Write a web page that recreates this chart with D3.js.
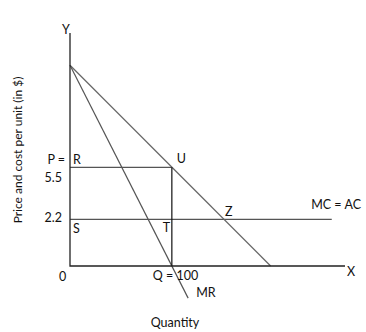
<!DOCTYPE html>
<html><head><meta charset="utf-8">
<script src="https://cdn.jsdelivr.net/npm/d3@7"></script>
<style>html,body{margin:0;padding:0;background:#fff;}svg{display:block;font-family:Lato,"Open Sans",sans-serif;}</style>
</head><body>
<script>
// Data (economic model: quantity on x, price/cost on y)
const demandIntercept = 11.2;     // price where demand / MR start
const demandQtyIntercept = 197;   // quantity where demand hits x axis
const mrQtyIntercept = 100;       // Q = 100
const mrEndQty = 116;             // MR drawn slightly below axis
const priceP = 5.5;               // P
const mcLevel = 2.6;              // MC = AC (labelled 2.2)
const yTickLabels = [{v: 5.5, t: "5.5", dy: 15}, {v: 2.6, t: "2.2", dy: 3}];
const pointLabels = ["R", "S", "T", "U", "Z"];

const W = 366, H = 332;
const svg = d3.select("body").append("svg").attr("width", W).attr("height", H);
const x = d3.scaleLinear().domain([0, 270]).range([70, 345]);
const y = d3.scaleLinear().domain([0, 13]).range([266, 33]);

const demand = q => demandIntercept * (1 - q / demandQtyIntercept);
const mr = q => demandIntercept * (1 - q / mrQtyIntercept);
const qZ = demandQtyIntercept * (1 - mcLevel / demandIntercept);

const line = d3.line().x(d => x(d[0])).y(d => y(d[1]));
function seg(pts, color, w) {
  svg.append("path").attr("d", line(pts)).attr("fill", "none")
    .attr("stroke", color).attr("stroke-width", w || 1.2);
}

// horizontal lines
seg([[0, priceP], [mrQtyIntercept, priceP]], "#555");
seg([[0, mcLevel], [257, mcLevel]], "#555");
// demand and MR
seg([[0, demandIntercept], [demandQtyIntercept, 0]], "#666");
seg([[0, demandIntercept], [mrEndQty, mr(mrEndQty)]], "#555");
// vertical U-Q
seg([[mrQtyIntercept, demand(mrQtyIntercept)], [mrQtyIntercept, 0]], "#111");
// axes
seg([[0, 13], [0, 0], [270, 0]], "#222", 1.3);

const FS = 12.5;
function txt(px, py, t, anchor) {
  svg.append("text").attr("x", px).attr("y", py).attr("font-size", FS)
    .attr("fill", "#111").attr("text-anchor", anchor || "start").text(t);
}
txt(x(0) - 8, y(13) + 1, "Y");
txt(x(0) - 11, 281, "0");
txt(x(0) - 5, y(priceP) - 3, "P =", "end");
yTickLabels.forEach(d => txt(x(0) - 8, y(d.v) + d.dy, d.t, "end"));
txt(x(0) + 3, y(priceP) - 3, pointLabels[0]);
txt(x(0) + 3, y(mcLevel) + 14, pointLabels[1]);
txt(x(mrQtyIntercept) - 9, y(mcLevel) + 13, pointLabels[2]);
txt(x(mrQtyIntercept) + 5, y(priceP) - 4, pointLabels[3]);
txt(x(qZ) + 1, y(mcLevel) - 3, pointLabels[4]);
txt(x(mrQtyIntercept) - 19, 280, "Q = 100");
txt(x(mrEndQty) + 8, 297, "MR");
txt(361, y(mcLevel) - 10, "MC = AC", "end");
txt(x(270) + 2, 276, "X");
txt(175, 327, "Quantity", "middle");
svg.append("text").attr("transform", "translate(22,150) rotate(-90)")
  .attr("text-anchor", "middle").attr("font-size", 12).attr("fill", "#111")
  .text("Price and cost per unit (in $)");
</script>
</body></html>
